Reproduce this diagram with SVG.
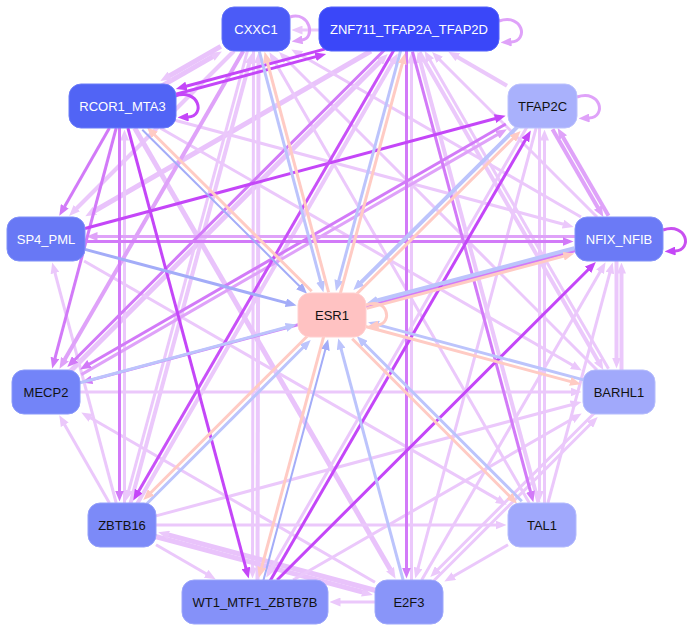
<svg xmlns="http://www.w3.org/2000/svg" width="694" height="632" viewBox="0 0 694 632">
<style>
#connectors line,#connectors path{fill:none;stroke-linecap:butt}
.L{stroke:#ebc8fb;stroke-width:3;marker-end:url(#aL)}
.L4{stroke:#ebc8fb;stroke-width:4;marker-end:url(#aL)}
.L5{stroke:#e9c3fb;stroke-width:5;marker-end:url(#aL)}
.Ml{stroke:#dfa2f9;stroke-width:3;marker-end:url(#aMl)}
.Ml4{stroke:#dfa2f9;stroke-width:4;marker-end:url(#aMl)}
.Md{stroke:#d27af8;stroke-width:3;marker-end:url(#aMd)}
.D{stroke:#c446f8;stroke-width:3;marker-end:url(#aD)}
.Bl{stroke:#bcc4fc;stroke-width:3;marker-end:url(#aBl)}
.Bl4{stroke:#bcc4fc;stroke-width:4;marker-end:url(#aBl)}
.Bd{stroke:#a3acf8;stroke-width:3;marker-end:url(#aBd)}
.Bd2{stroke:#a3acf8;stroke-width:2;marker-end:url(#aBd)}
.Sa{stroke:#ffcbc4;stroke-width:3;marker-end:url(#aSa)}
.node rect{stroke-width:1}
.node text{font-family:"Liberation Sans",Arial,Helvetica,sans-serif;font-size:13px;text-anchor:middle}
.w text{fill:#ffffff}
.k text{fill:#111111}
</style>
<defs>
<marker id="aL" viewBox="0 0 11 9" refX="0.5" refY="4.5" markerWidth="11" markerHeight="9" markerUnits="userSpaceOnUse" orient="auto"><path d="M0,0 L11,4.5 L0,9 z" fill="#ebc8fb" stroke="none"/></marker>
<marker id="aMl" viewBox="0 0 11 9" refX="0.5" refY="4.5" markerWidth="11" markerHeight="9" markerUnits="userSpaceOnUse" orient="auto"><path d="M0,0 L11,4.5 L0,9 z" fill="#dfa2f9" stroke="none"/></marker>
<marker id="aMd" viewBox="0 0 11 9" refX="0.5" refY="4.5" markerWidth="11" markerHeight="9" markerUnits="userSpaceOnUse" orient="auto"><path d="M0,0 L11,4.5 L0,9 z" fill="#d27af8" stroke="none"/></marker>
<marker id="aD" viewBox="0 0 11 9" refX="0.5" refY="4.5" markerWidth="11" markerHeight="9" markerUnits="userSpaceOnUse" orient="auto"><path d="M0,0 L11,4.5 L0,9 z" fill="#c446f8" stroke="none"/></marker>
<marker id="aBl" viewBox="0 0 11 9" refX="0.5" refY="4.5" markerWidth="11" markerHeight="9" markerUnits="userSpaceOnUse" orient="auto"><path d="M0,0 L11,4.5 L0,9 z" fill="#bcc4fc" stroke="none"/></marker>
<marker id="aBd" viewBox="0 0 11 9" refX="0.5" refY="4.5" markerWidth="11" markerHeight="9" markerUnits="userSpaceOnUse" orient="auto"><path d="M0,0 L11,4.5 L0,9 z" fill="#a3acf8" stroke="none"/></marker>
<marker id="aSa" viewBox="0 0 11 9" refX="0.5" refY="4.5" markerWidth="11" markerHeight="9" markerUnits="userSpaceOnUse" orient="auto"><path d="M0,0 L11,4.5 L0,9 z" fill="#ffcbc4" stroke="none"/></marker>
</defs>
<rect width="694" height="632" fill="#ffffff"/>
<g id="connectors">
<line class="L5" x1="161.5" y1="86.2" x2="212.8" y2="56.7"/>
<line class="L5" x1="220.8" y1="46.3" x2="169.4" y2="75.8"/>
<line class="L" x1="319" y1="30" x2="302" y2="30"/>
<line class="L5" x1="69.8" y1="371.8" x2="380.3" y2="61.3"/>
<line class="L5" x1="371" y1="51" x2="94.4" y2="211"/>
<line class="L4" x1="234" y1="51" x2="76.5" y2="208.5"/>
<line class="L4" x1="130.4" y1="503.7" x2="249.3" y2="63.3"/>
<line class="L" x1="247.6" y1="50.4" x2="128.7" y2="490.7"/>
<line class="L4" x1="257.5" y1="580" x2="258.5" y2="63"/>
<line class="L" x1="253.5" y1="51" x2="252.5" y2="568"/>
<line class="L" x1="529.3" y1="503" x2="274.7" y2="61.4"/>
<line class="L" x1="597" y1="370" x2="286.5" y2="59.5"/>
<line class="L" x1="581" y1="217" x2="300.4" y2="54.7"/>
<line class="L4" x1="136.9" y1="504.3" x2="392.5" y2="62.6"/>
<line class="L4" x1="538.5" y1="502.4" x2="420.4" y2="62"/>
<line class="L" x1="608.5" y1="368.8" x2="429.9" y2="60.1"/>
<line class="L4" x1="419.5" y1="52.3" x2="598.1" y2="360.9"/>
<line class="L" x1="597" y1="217" x2="439.5" y2="59.5"/>
<line class="L4" x1="507" y1="85.8" x2="457.4" y2="57"/>
<line class="L" x1="411.5" y1="580" x2="411.5" y2="63"/>
<line class="L" x1="175" y1="120.2" x2="563.5" y2="224.2"/>
<line class="L" x1="160.2" y1="128" x2="572.7" y2="365.3"/>
<line class="L5" x1="134.7" y1="128" x2="390.3" y2="569.6"/>
<line class="L" x1="80" y1="392" x2="571" y2="392"/>
<line class="L" x1="84.1" y1="261" x2="497.7" y2="499.4"/>
<line class="L" x1="109.4" y1="503" x2="64.5" y2="424.4"/>
<line class="L" x1="156" y1="515.9" x2="571.4" y2="404.7"/>
<line class="L" x1="156" y1="525" x2="496" y2="525"/>
<line class="L5" x1="155.4" y1="536.5" x2="362.7" y2="592.2"/>
<line class="L5" x1="375.7" y1="590.5" x2="168.3" y2="534.9"/>
<line class="L" x1="156" y1="544.7" x2="206.6" y2="574"/>
<line class="L" x1="116.2" y1="503" x2="54.9" y2="272.6"/>
<line class="L" x1="375" y1="582.3" x2="90.4" y2="417.7"/>
<line class="L" x1="375" y1="602" x2="340" y2="602"/>
<line class="L" x1="508" y1="544.7" x2="453.4" y2="576.3"/>
<line class="L4" x1="621.5" y1="370" x2="621.5" y2="273"/>
<line class="L4" x1="616.5" y1="261" x2="616.5" y2="358"/>
<line class="L" x1="547.9" y1="503" x2="609.9" y2="272.6"/>
<line class="L" x1="539.5" y1="128" x2="539.5" y2="491"/>
<line class="L" x1="544.5" y1="503" x2="544.5" y2="140"/>
<line class="L" x1="421.7" y1="580" x2="600.3" y2="271.4"/>
<line class="L" x1="432.8" y1="581.8" x2="590.3" y2="424.3"/>
<line class="L" x1="595.2" y1="412.2" x2="437.7" y2="569.7"/>
<line class="L" x1="293.1" y1="580" x2="572.6" y2="418.8"/>
<line class="L" x1="536.1" y1="128" x2="418" y2="568.4"/>
<line class="L" x1="527.1" y1="126.8" x2="271.5" y2="568.4"/>
<line class="L" x1="124.5" y1="503" x2="124.5" y2="140"/>
<line class="Ml" x1="575" y1="236.5" x2="97" y2="236.5"/>
<line class="Ml4" x1="552.5" y1="129.3" x2="598.1" y2="207.9"/>
<line class="Ml4" x1="608.5" y1="215.8" x2="562.9" y2="137.1"/>
<line class="Ml4" x1="243.3" y1="51" x2="64.7" y2="359.6"/>
<line class="Ml" x1="81.3" y1="374.6" x2="497.8" y2="134.4"/>
<path class="Ml" d="M499,21 C523,13 529,41 511,42"/>
<path class="Ml" d="M290,17 C310,11 316,38 302,40"/>
<path class="Ml" d="M577,97 C601,89 607,117 589,118"/>
<line class="Md" x1="109.4" y1="128" x2="64.5" y2="206.7"/>
<line class="Md" x1="119.5" y1="128" x2="119.5" y2="491"/>
<line class="Md" x1="406.5" y1="51" x2="406.5" y2="568"/>
<line class="Md" x1="85" y1="241.5" x2="563" y2="241.5"/>
<line class="Md" x1="385.2" y1="49.2" x2="74.7" y2="359.7"/>
<line class="Md" x1="575" y1="250.7" x2="91.6" y2="379.9"/>
<line class="Md" x1="505.8" y1="124" x2="89.1" y2="364.2"/>
<line class="Md" x1="116.2" y1="128" x2="54.9" y2="358.4"/>
<line class="Md" x1="412.5" y1="51.7" x2="530.6" y2="492"/>
<line class="D" x1="85" y1="228.5" x2="495.5" y2="118.5"/>
<line class="D" x1="269.9" y1="581.3" x2="525.5" y2="139.7"/>
<line class="D" x1="277.1" y1="580" x2="588.4" y2="269.5"/>
<line class="D" x1="127.9" y1="128" x2="246" y2="568.4"/>
<line class="D" x1="175.7" y1="94.2" x2="316" y2="56.6"/>
<line class="D" x1="326.4" y1="48.6" x2="186" y2="86.2"/>
<line class="D" x1="394.1" y1="49.8" x2="138.5" y2="491.4" style="stroke:#c850f8"/>
<path class="D" d="M175,96 C199,88 206,116 188,117"/>
<path class="D" d="M663,230 C687,222 693,250 675,251" style="stroke:#c850f0"/>
<line class="Bd" x1="85" y1="249.4" x2="286.4" y2="302.9"/>
<line class="Bl" x1="80" y1="382.8" x2="286.4" y2="327.3"/>
<line class="Bd2" x1="142.3" y1="129.8" x2="299.6" y2="286.3"/>
<line class="Bl" x1="259.4" y1="51.7" x2="320.7" y2="282"/>
<line class="Bl" x1="400.7" y1="50.4" x2="338.7" y2="280.8"/>
<line class="Bl4" x1="518.1" y1="126.2" x2="360.8" y2="282.7"/>
<line class="Bl4" x1="574.4" y1="248.2" x2="377" y2="300.5"/>
<line class="Bl" x1="583.6" y1="379.9" x2="378.2" y2="324.9"/>
<line class="Bl" x1="521.8" y1="501.2" x2="364.3" y2="343.7"/>
<line class="Bl" x1="403.1" y1="580" x2="341" y2="348.6"/>
<line class="Bd2" x1="263.3" y1="580.7" x2="325.4" y2="349.3"/>
<line class="Bl" x1="145.8" y1="504.8" x2="303.3" y2="347.3"/>
<line class="Sa" x1="311.7" y1="291.2" x2="154.4" y2="134.7"/>
<line class="Sa" x1="328.6" y1="292.4" x2="267.3" y2="62"/>
<line class="Sa" x1="340.3" y1="293.7" x2="402.3" y2="63.3"/>
<line class="Sa" x1="355.9" y1="294.8" x2="513.2" y2="138.3"/>
<line class="Sa" x1="366.6" y1="308.4" x2="564.1" y2="256.1"/>
<line class="Sa" x1="365.4" y1="326.5" x2="570.8" y2="381.6"/>
<line class="Sa" x1="352.2" y1="338.8" x2="509.7" y2="496.3"/>
<line class="Sa" x1="323.7" y1="336.4" x2="261.6" y2="567.7"/>
<line class="Sa" x1="308.2" y1="335.2" x2="150.7" y2="492.7"/>
<path class="Sa" d="M366,305 C388,297 393,323 378,325"/>
</g>
<g id="node-CXXC1" class="node w"><rect x="222" y="7" width="68" height="44" rx="12" fill="#4b5bf7" stroke="#6272fa"/><text x="256" y="33.5">CXXC1</text></g>
<g id="node-ZNF711_TFAP2A_TFAP2D" class="node w"><rect x="319" y="7" width="180" height="44" rx="12" fill="#3a47f9" stroke="#5463fa"/><text x="409" y="33.5">ZNF711_TFAP2A_TFAP2D</text></g>
<g id="node-RCOR1_MTA3" class="node w"><rect x="69" y="84" width="107" height="44" rx="12" fill="#5164f5" stroke="#6b7cf8"/><text x="122.5" y="110.5">RCOR1_MTA3</text></g>
<g id="node-TFAP2C" class="node k"><rect x="508" y="84" width="69" height="44" rx="12" fill="#a9b1fc" stroke="#bcc2fd"/><text x="542.5" y="110.5">TFAP2C</text></g>
<g id="node-SP4_PML" class="node w"><rect x="7" y="217" width="78" height="44" rx="12" fill="#6878f5" stroke="#8090f8"/><text x="46" y="243.5">SP4_PML</text></g>
<g id="node-NFIX_NFIB" class="node w"><rect x="575" y="217" width="88" height="44" rx="12" fill="#6b7af6" stroke="#8392f8"/><text x="619" y="243.5">NFIX_NFIB</text></g>
<g id="node-ESR1" class="node k"><rect x="298" y="293" width="68" height="44" rx="12" fill="#ffc2c2" stroke="#ffd0d0"/><text x="332" y="319.5">ESR1</text></g>
<g id="node-MECP2" class="node k"><rect x="12" y="370" width="68" height="44" rx="12" fill="#7384f8" stroke="#8a99fa"/><text x="46" y="396.5">MECP2</text></g>
<g id="node-BARHL1" class="node k"><rect x="583" y="370" width="72" height="44" rx="12" fill="#a1a9fb" stroke="#b5bcfc"/><text x="619" y="396.5">BARHL1</text></g>
<g id="node-ZBTB16" class="node k"><rect x="88" y="503" width="68" height="44" rx="12" fill="#7c8af8" stroke="#939ffa"/><text x="122" y="529.5">ZBTB16</text></g>
<g id="node-TAL1" class="node k"><rect x="508" y="503" width="68" height="44" rx="12" fill="#a0a8fc" stroke="#b4bbfd"/><text x="542" y="529.5">TAL1</text></g>
<g id="node-WT1_MTF1_ZBTB7B" class="node k"><rect x="182" y="580" width="146" height="44" rx="12" fill="#8591f9" stroke="#9ba5fb"/><text x="255" y="606.5">WT1_MTF1_ZBTB7B</text></g>
<g id="node-E2F3" class="node k"><rect x="375" y="580" width="68" height="44" rx="12" fill="#8995f9" stroke="#9ea8fb"/><text x="409" y="606.5">E2F3</text></g>
</svg>
